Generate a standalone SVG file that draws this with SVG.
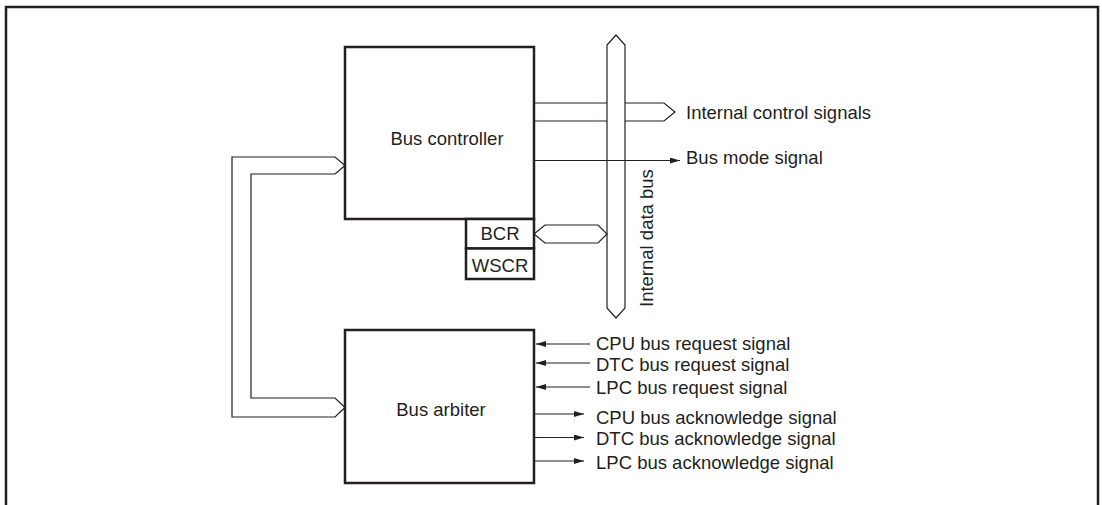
<svg xmlns="http://www.w3.org/2000/svg" width="1102" height="505" viewBox="0 0 1102 505">
<style>
text{font-family:"Liberation Sans",Arial,sans-serif;font-size:18.5px;fill:#231f20}
.box{fill:#fff;stroke:#231f20;stroke-width:2.5}
.thin{fill:none;stroke:#231f20;stroke-width:1.2}
.bus{fill:#fff;stroke:#231f20;stroke-width:1.2;stroke-linejoin:miter}
.mid{text-anchor:middle}
</style>
<defs>
<marker id="ah" viewBox="0 0 10 6" refX="10" refY="3" markerWidth="10" markerHeight="6" markerUnits="userSpaceOnUse" orient="auto">
<path d="M0,0 L10,3 L0,6 Z" fill="#231f20"/>
</marker>
</defs>
<path d="M6,505 L6,7 L1098,7 L1098,505" fill="none" stroke="#231f20" stroke-width="2.5"/>
<g id="connectors">
<path class="thin" d="M345,165.5 L335,157 L232,157 L232,417 L335,417 L345,407.5"/>
<path class="thin" d="M345,165.5 L335,174 L251,174 L251,398 L335,398 L345,407.5"/>
<path class="bus" d="M534,103 L664,103 L675,112 L664,121 L534,121"/>
<polygon id="internal-data-bus" class="bus" points="616,35 625,45 625,308 616,318 607,308 607,45"/>
<line class="thin" x1="534" y1="160.5" x2="680" y2="160.5" marker-end="url(#ah)"/>
<polygon class="bus" points="534,234 545,225 598,225 607,234 598,243 545,243"/>
<line class="thin" x1="590" y1="344" x2="536" y2="344" marker-end="url(#ah)"/>
<line class="thin" x1="590" y1="363" x2="536" y2="363" marker-end="url(#ah)"/>
<line class="thin" x1="590" y1="387" x2="536" y2="387" marker-end="url(#ah)"/>
<line class="thin" x1="534" y1="414" x2="584" y2="414" marker-end="url(#ah)"/>
<line class="thin" x1="534" y1="437.5" x2="584" y2="437.5" marker-end="url(#ah)"/>
<line class="thin" x1="534" y1="461" x2="584" y2="461" marker-end="url(#ah)"/>
</g>
<g id="bus-controller">
<rect class="box" x="345" y="47" width="189" height="172"/>
<text x="447" y="145" class="mid">Bus controller</text>
</g>
<g id="bcr">
<rect class="box" x="466" y="219" width="68" height="29.5"/>
<text x="500" y="239.5" class="mid">BCR</text>
</g>
<g id="wscr">
<rect class="box" x="466" y="248.5" width="68" height="30.5"/>
<text x="500" y="271.5" class="mid">WSCR</text>
</g>
<g id="bus-arbiter">
<rect class="box" x="345" y="330" width="189" height="153"/>
<text x="441" y="416" class="mid">Bus arbiter</text>
</g>
<g id="labels">
<text x="686" y="119">Internal control signals</text>
<text x="686" y="164">Bus mode signal</text>
<text transform="translate(652.5,307) rotate(-90)">Internal data bus</text>
<text x="596" y="349.5">CPU bus request signal</text>
<text x="596" y="370.5">DTC bus request signal</text>
<text x="596" y="394">LPC bus request signal</text>
<text x="596" y="424">CPU bus acknowledge signal</text>
<text x="596" y="445">DTC bus acknowledge signal</text>
<text x="596" y="468.5">LPC bus acknowledge signal</text>
</g>
</svg>
